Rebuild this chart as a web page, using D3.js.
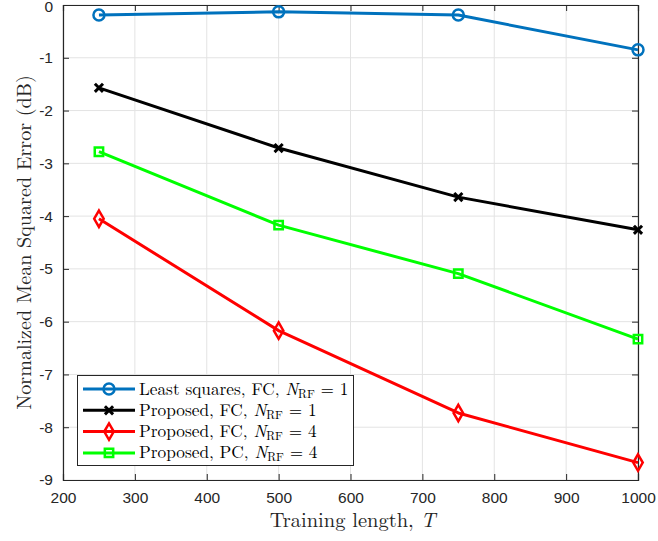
<!DOCTYPE html>
<html><head><meta charset="utf-8">
<script src="https://cdn.jsdelivr.net/npm/d3@7/dist/d3.min.js"></script>
<style>body{margin:0;background:#fff}svg{display:block}</style>
</head><body><svg id="c" width="658" height="541"></svg>
<script>
const trainingLengths = [250, 500, 750, 1000];
const lsFC1 = [-0.19, -0.13, -0.19, -0.85];
const propFC1 = [-1.57, -2.71, -3.64, -4.26];
const propFC4 = [-4.05, -6.17, -7.73, -8.67];
const propPC4 = [-2.78, -4.17, -5.09, -6.33];
const xTicks = [200, 300, 400, 500, 600, 700, 800, 900, 1000];
const yTicks = [0, -1, -2, -3, -4, -5, -6, -7, -8, -9];
const seriesNames = ["Least squares, FC, ", "Proposed, FC, ", "Proposed, FC, ", "Proposed, PC, "];
const seriesNRF = ["1", "1", "4", "4"];
const seriesColors = ["#0072bd", "#000000", "#ff0000", "#00ff00"];
const seriesMarkers = ["circle", "x", "diamond", "square"];
const seriesValues = [lsFC1, propFC1, propFC4, propPC4];

const svg = d3.select("#c");
const L = 63, R = 638, T = 5, B = 480;
const x = d3.scaleLinear().domain([200, 1000]).range([L, R]);
const y = d3.scaleLinear().domain([-9, 0]).range([B, T]);
const axisColor = "#262626";

// grid
const g = svg.append("g");
g.selectAll(".gx").data(xTicks).join("line")
  .attr("x1", d => x(d)).attr("x2", d => x(d)).attr("y1", T).attr("y2", B)
  .attr("stroke", "#e3e3e3").attr("stroke-width", 1);
g.selectAll(".gy").data(yTicks).join("line")
  .attr("y1", d => y(d)).attr("y2", d => y(d)).attr("x1", L).attr("x2", R)
  .attr("stroke", "#e3e3e3").attr("stroke-width", 1);

// axes
const fontTick = "'Liberation Sans', Arial, sans-serif";
const fmt = d => String(d);
const xa = svg.append("g").attr("transform", `translate(0,${B})`)
  .call(d3.axisBottom(x).tickValues(xTicks).tickSize(-6).tickPadding(12).tickFormat(fmt));
const xt = svg.append("g").attr("transform", `translate(0,${T})`)
  .call(d3.axisTop(x).tickValues(xTicks).tickSize(-6).tickFormat(""));
const ya = svg.append("g").attr("transform", `translate(${L},0)`)
  .call(d3.axisLeft(y).tickValues(yTicks).tickSize(-6).tickPadding(10).tickFormat(fmt));
const yr = svg.append("g").attr("transform", `translate(${R},0)`)
  .call(d3.axisRight(y).tickValues(yTicks).tickSize(-6).tickFormat(""));
[xa, xt, ya, yr].forEach(a => {
  a.select(".domain").attr("stroke", axisColor).attr("stroke-width", 1.2);
  a.selectAll(".tick line").attr("stroke", axisColor).attr("stroke-width", 1);
  a.selectAll("text").attr("fill", axisColor).attr("font-size", 15.5).attr("font-family", fontTick);
});
ya.selectAll(".tick text").filter(d => d === 0).attr("dy", "0.45em");

// series
const markerSym = {
  circle: d3.symbol().type(d3.symbolCircle).size(95),
  x: d3.symbol().type(d3.symbolX).size(45),
  diamond: d3.symbol().type(d3.symbolDiamond).size(78),
  square: d3.symbol().type(d3.symbolSquare).size(70)
};
const line = d3.line().x((d, i) => x(trainingLengths[i])).y(d => y(d));
seriesValues.forEach((vals, si) => {
  const c = seriesColors[si];
  svg.append("path").datum(vals).attr("d", line)
    .attr("fill", "none").attr("stroke", c).attr("stroke-width", 3).attr("stroke-linejoin", "round");
  svg.selectAll(null).data(vals).join("path")
    .attr("transform", (d, i) => `translate(${x(trainingLengths[i])},${y(d)})`)
    .attr("d", markerSym[seriesMarkers[si]])
    .attr("fill", "none").attr("stroke", c).attr("stroke-width", seriesMarkers[si] === "x" ? 3 : 2.5);
});

// legend
const lg = svg.append("g");
lg.append("rect").attr("x", 77.5).attr("y", 375.5).attr("width", 276).attr("height", 90)
  .attr("fill", "#fff").attr("stroke", axisColor).attr("stroke-width", 1);
const serif = "'Latin Modern Roman', 'CMU Serif', 'Liberation Serif', 'DejaVu Serif', serif";
seriesNames.forEach((name, i) => {
  const yy = 389 + i * 21.3;
  const c = seriesColors[i];
  lg.append("line").attr("x1", 83).attr("x2", 135).attr("y1", yy).attr("y2", yy)
    .attr("stroke", c).attr("stroke-width", 3);
  lg.append("path").attr("transform", `translate(109,${yy})`).attr("d", markerSym[seriesMarkers[i]])
    .attr("fill", "none").attr("stroke", c).attr("stroke-width", seriesMarkers[i] === "x" ? 3 : 2.5);
  const t = lg.append("text").attr("x", 139).attr("y", yy + 5.5)
    .attr("font-family", serif).attr("font-size", 17.3).attr("fill", "#000");
  t.append("tspan").text(name);
  t.append("tspan").attr("font-style", "italic").text("N");
  t.append("tspan").attr("font-size", 12).attr("baseline-shift", "-3").text("RF");
  t.append("tspan").text(" = " + seriesNRF[i]);
});

// axis labels
svg.append("text").attr("x", (L + R) / 2 + 2).attr("y", 527).attr("text-anchor", "middle")
  .attr("font-family", serif).attr("font-size", 20.5).attr("fill", axisColor)
  .call(t => { t.append("tspan").text("Training length, "); t.append("tspan").attr("font-style", "italic").text("T"); });
svg.append("text").attr("transform", `translate(31,${(T + B) / 2}) rotate(-90)`).attr("text-anchor", "middle")
  .attr("font-family", serif).attr("font-size", 20.1).attr("fill", axisColor)
  .text("Normalized Mean Squared Error (dB)");
</script></body></html>
